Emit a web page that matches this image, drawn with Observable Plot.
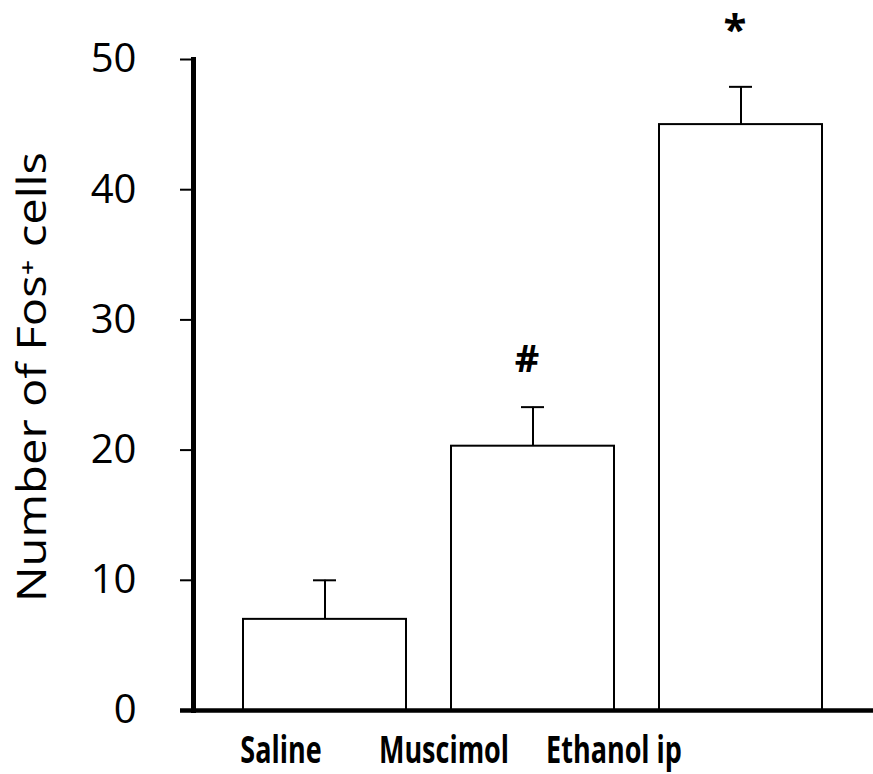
<!DOCTYPE html>
<html>
<head>
<meta charset="utf-8">
<script src="https://cdn.jsdelivr.net/npm/d3@7"></script>
<script src="https://cdn.jsdelivr.net/npm/@observablehq/plot@0.6"></script>
<style>
  html, body { margin: 0; padding: 0; background: #fff; }
  svg { display: block; }
</style>
</head>
<body>
<div id="chart"></div>
<script>
const categories = ["Saline", "Muscimol", "Ethanol ip"];
const means = [7.0, 20.3, 45.0];
const sems = [3.0, 3.0, 2.9];
const significance = ["", "#", "*"];
const yTicks = [0, 10, 20, 30, 40, 50];
const yLabel = "Number of Fos\u207A cells";

const data = categories.map((c, i) => ({cat: c, mean: means[i], sem: sems[i], upper: means[i] + sems[i], sig: significance[i]}));

// layout: horizontal shift of each category label relative to its bar centre
const labelShift = [-44, -89, -127];

const plot = Plot.plot({
  width: 873,
  height: 774,
  marginLeft: 193,
  marginRight: 0,
  marginTop: 59,
  marginBottom: 64,
  style: {fontFamily: "'Open Sans', sans-serif", background: "white", overflow: "visible"},
  x: {domain: categories, paddingInner: 0.216, paddingOuter: 0.24, axis: null},
  y: {domain: [0, 50], axis: null},
  marks: [
    Plot.barY(data, {x: "cat", y: "mean", fill: "white", stroke: "black", strokeWidth: 2}),
    Plot.ruleX(data, {x: "cat", y1: "mean", y2: "upper", stroke: "black", strokeWidth: 2}),
    Plot.tickY(data, {x: "cat", y: "upper", stroke: "black", strokeWidth: 2, insetLeft: 70, insetRight: 70}),
    Plot.axisY({ticks: yTicks, tickSize: 13, tickPadding: 44, fontSize: 40, strokeWidth: 2, label: null, tickFormat: d => d}),
    Plot.frame({anchor: "left", strokeWidth: 5, insetTop: 0}),
    Plot.ruleY([0], {stroke: "black", strokeWidth: 4.5, insetLeft: -13}),
    ...categories.map((c, i) => Plot.axisX({ticks: [c], tickSize: 0, tickPadding: 26, fontSize: 38, fontWeight: "bold", dx: labelShift[i], label: null})),
    Plot.text(data.filter(d => d.sig === "#"), {x: "cat", y: "upper", text: "sig", dy: -47, dx: -6, fontSize: 38, fontWeight: "bold"}),
    Plot.text(data.filter(d => d.sig === "*"), {x: "cat", y: "upper", text: "sig", dy: -56, dx: -6, fontSize: 42, fontWeight: "bold"}),
    Plot.text([yLabel], {frameAnchor: "left", textAnchor: "middle", dx: -160, dy: -8, rotate: -90, fontSize: 40})
  ]
});

document.getElementById("chart").appendChild(plot);

// condense the text horizontally to approximate the narrower original typeface
plot.querySelectorAll("text").forEach(t => {
  const s = t.textContent;
  if (categories.includes(s)) {
    const len = t.getComputedTextLength();
    t.setAttribute("textLength", (len * 0.71).toFixed(1));
    t.setAttribute("lengthAdjust", "spacingAndGlyphs");
  } else if (s === yLabel) {
    t.setAttribute("textLength", "450");
    t.setAttribute("lengthAdjust", "spacingAndGlyphs");
  }
});
</script>
</body>
</html>
